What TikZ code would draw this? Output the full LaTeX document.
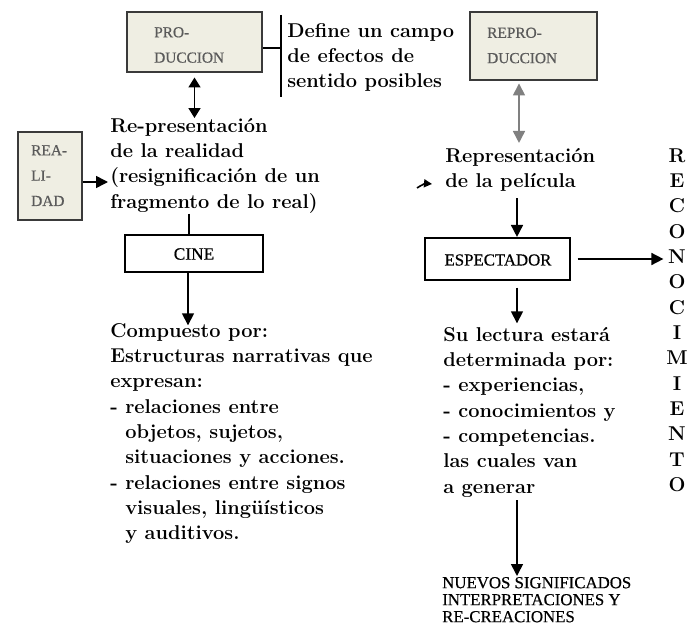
\documentclass[tikz,border=0pt]{standalone}
\usepackage{fontspec}
\newfontfamily\boxfont[FakeBold=0.5]{Liberation Serif}
\usetikzlibrary{arrows.meta}
\definecolor{beige}{HTML}{EFEEE3}
\definecolor{edge}{HTML}{3A3A3A}
\definecolor{lbl}{HTML}{5A5A5A}
\definecolor{garrow}{HTML}{808080}
\begin{document}
\begin{tikzpicture}[x=0.75pt,y=-0.75pt,
  gbox/.style={draw=edge, fill=beige, line width=1.2pt, inner sep=0pt},
  wbox/.style={draw=black, fill=white, line width=1.6pt, inner sep=0pt},
  glabel/.style={font=\boxfont\fontsize{11.5}{19}\selectfont, text=lbl, align=left, inner sep=0pt, anchor=north west},
  wlabel/.style={font=\boxfont\fontsize{12.5}{14}\selectfont, text=black, inner sep=0pt},
  body/.style={font=\fontsize{15}{19}\selectfont\bfseries, align=left, inner sep=0pt, anchor=north west},
  arr/.style={draw=black, line width=1.2pt, -{Triangle[width=9pt,length=9pt]}},
  darr/.style={draw=black, line width=1.2pt, {Triangle[width=9pt,length=7.5pt]}-{Triangle[width=9pt,length=7.5pt]}},
  gdarr/.style={draw=garrow, line width=1.2pt, {Triangle[width=9pt,length=9pt]}-{Triangle[width=9pt,length=9pt]}},
  plain/.style={draw=black, line width=1.2pt},
  brk/.style={draw=black, line width=1.4pt}
]
\useasboundingbox (0,0) rectangle (699,635);

% boxes
\node[gbox, minimum width=101.25pt, minimum height=45pt] (prod) at (194.5,42) {};
\node[glabel] (prodl) at (154,19.3) {\strut PRO-\\DUCCION};
\node[gbox, minimum width=95.25pt, minimum height=51pt] (repr) at (533.5,46) {};
\node[glabel] (reprl) at (487,19.8) {\strut REPRO-\\DUCCION};
\node[gbox, minimum width=48pt, minimum height=66pt] (real) at (50,176) {};
\node[glabel] (reall) at (31,137.3) {\strut REA-\\LI-\\DAD};
\node[wbox, minimum width=103.5pt, minimum height=27.75pt] (cine) at (194,253.5) {};
\node[wlabel, font=\boxfont\fontsize{13}{14}\selectfont] (cinel) at (194,254) {CINE};
\node[wbox, minimum width=108.75pt, minimum height=31.5pt] (esp) at (497.5,259) {};
\node[wlabel, font=\boxfont\fontsize{12.6}{14}\selectfont] (espl) at (498,260) {ESPECTADOR};

% texts
\node[body] (def) at (287,19.3) {\strut Define un campo\\de efectos de\\sentido posibles};
\node[body] (repre) at (110,114.3) {\strut Re-presentación\\de la realidad\\(resignificación de un\\fragmento de lo real)};
\node[body] (comp) at (110,319.3) {\strut Compuesto por:\\Estructuras narrativas que\\expresan:\\- relaciones entre\\\ \ objetos, sujetos,\\\ \ situaciones y acciones.\\- relaciones entre signos\\\ \ visuales, lingüísticos\\\ \ y auditivos.};
\node[body] (repel) at (445,144.3) {\strut Representación\\de la película};
\node[body] (lect) at (443,323.3) {\strut Su lectura estará\\determinada por:\\- experiencias,\\- conocimientos y\\- competencias.\\las cuales van\\a generar};
\node[body, align=center, anchor=north] (recon) at (677,144.3) {\strut R\\E\\C\\O\\N\\O\\C\\I\\M\\I\\E\\N\\T\\O};
\node[font=\boxfont\fontsize{12.6}{12.75}\selectfont, align=left, inner sep=0pt, anchor=north west] (nuevos) at (442,576) {\strut NUEVOS SIGNIFICADOS\\INTERPRETACIONES Y\\RE-CREACIONES};

% bracket
\coordinate (bt) at (281,15);
\coordinate (bb) at (281,97);
\draw[brk] (prod.east |- 0,48) -- (bt |- 0,48);
\draw[brk] (bt) -- (bb);

% connectors
\draw[darr] ([yshift=-3.5pt]prod.south) -- ([yshift=-2.8pt]prod.south |- repre.north);
\draw[arr, shorten >=1.5pt] (real.east |- 0,182) -- (repre.west |- 0,182);
\draw[plain] (repre.south -| 189,0) -- (cine.north -| 189,0);
\draw[arr, shorten >=-4.5pt] (cine.south -| 188,0) -- (comp.north -| 188,0);
\draw[gdarr, shorten <=2pt, shorten >=1pt] (repr.south -| 519,0) -- (repel.north -| 519,0);
\draw[arr, shorten <=5pt] (repel.south -| 517,0) -- (esp.north -| 517,0);
\draw[arr, shorten <=5pt, shorten >=2pt] (esp.east) -- (recon.west |- esp.east);
\draw[arr, shorten <=5pt] (esp.south -| 517,0) -- (lect.north -| 517,0);
\draw[arr, shorten <=2pt] (lect.south -| 517,0) -- (nuevos.north -| 517,0);
\coordinate (h1) at (417,188);
\coordinate (h2) at (432,184);
\draw[draw=black, line width=1.2pt, -{Triangle[width=6pt,length=6pt]}] (h1) to[bend left=20] (h2);
\end{tikzpicture}
\end{document}
